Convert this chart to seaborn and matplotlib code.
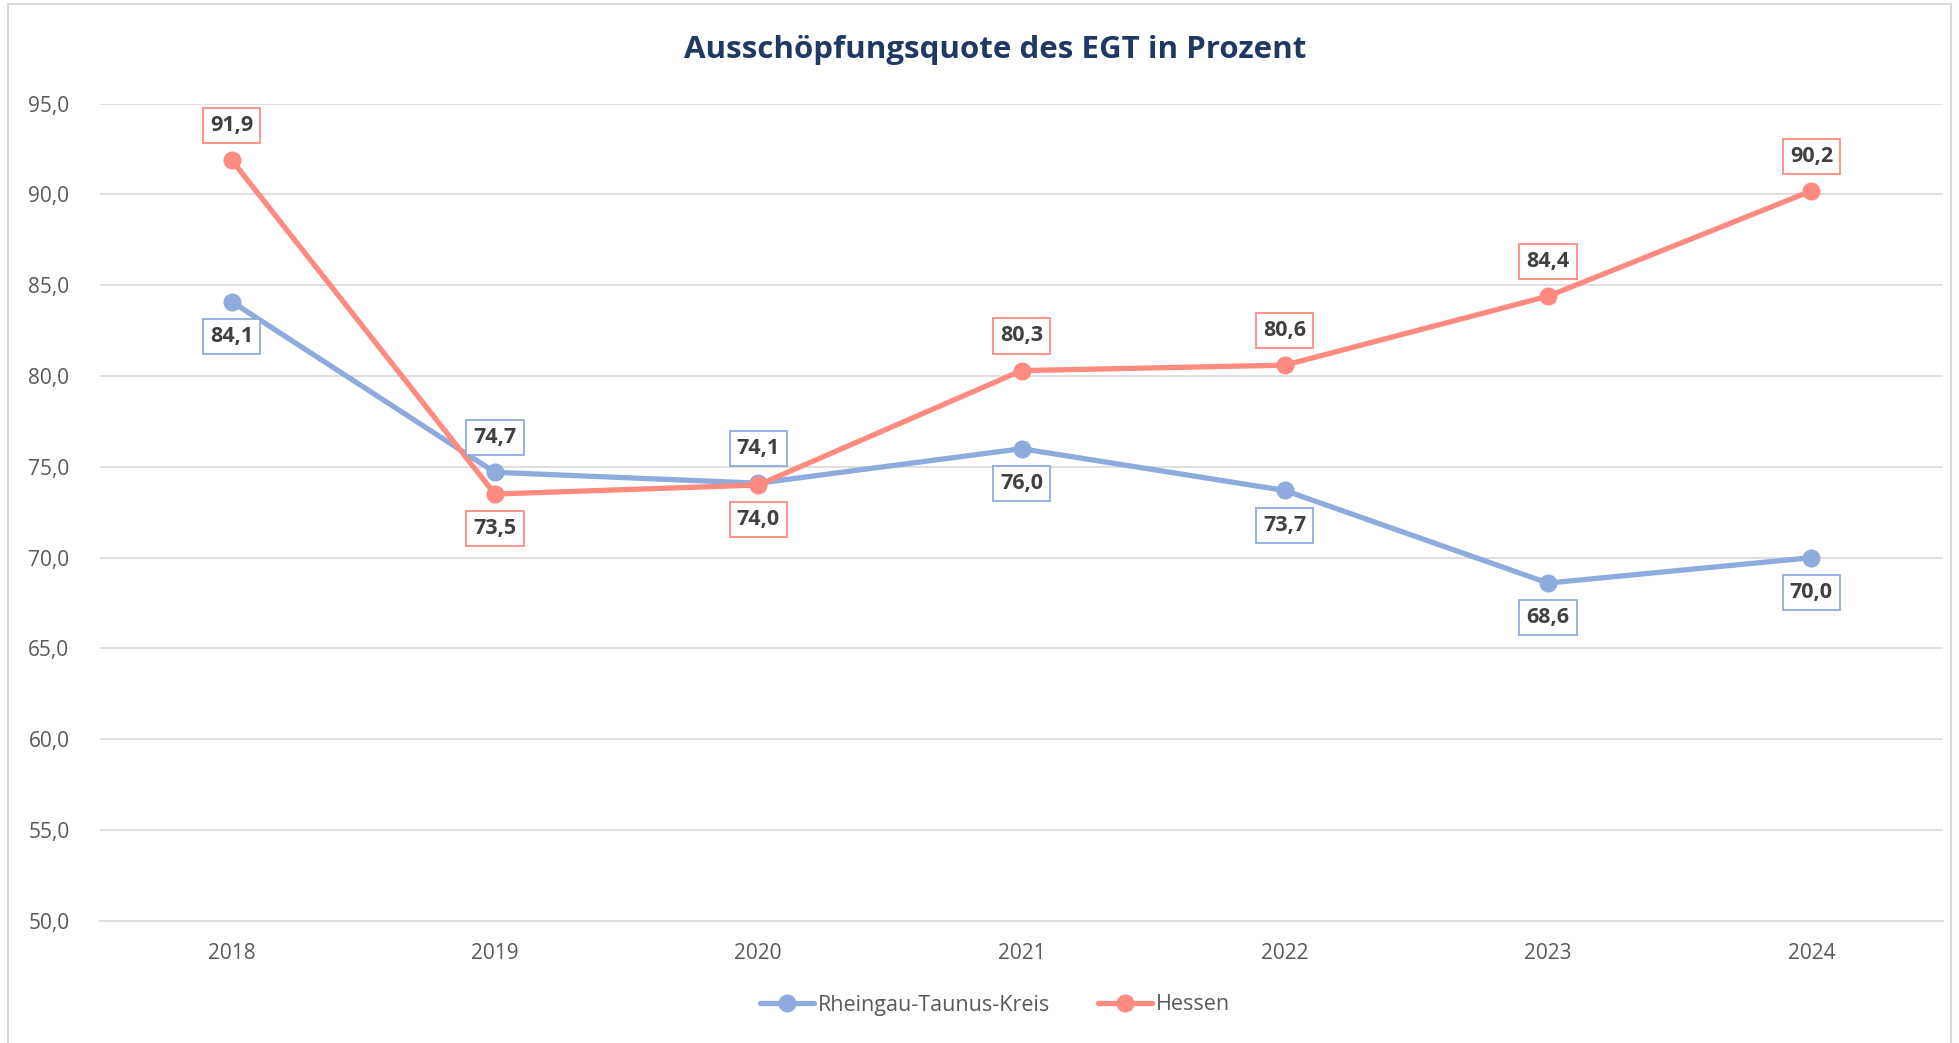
import numpy as np
import pandas as pd
import matplotlib
matplotlib.use("Agg")
import matplotlib.pyplot as plt
import seaborn as sns
from matplotlib.patches import Rectangle

# data
jahre = ["2018", "2019", "2020", "2021", "2022", "2023", "2024"]
rtk = [84.1, 74.7, 74.1, 76.0, 73.7, 68.6, 70.0]
hessen = [91.9, 73.5, 74.0, 80.3, 80.6, 84.4, 90.2]
serien = ["Rheingau-Taunus-Kreis", "Hessen"]
farben = ["#8FAADC", "#FF8A80"]
# label above (+1) or below (-1) the point
pos_rtk = [-1, 1, 1, -1, -1, -1, -1]
pos_hessen = [1, -1, -1, 1, 1, 1, 1]
yticks = [50, 55, 60, 65, 70, 75, 80, 85, 90, 95]

df = pd.DataFrame({
    "Jahr": jahre * 2,
    "Wert": rtk + hessen,
    "Region": [serien[0]] * len(jahre) + [serien[1]] * len(jahre),
})

sns.set_theme(style="white")
plt.rcParams['font.family'] = ['Open Sans', 'DejaVu Sans']

fig = plt.figure(figsize=(19.59, 10.43), dpi=100)
ax = fig.add_axes([100 / 1959, 1 - 920.8 / 1043, 1843 / 1959, (920.8 - 103.7) / 1043])

sns.lineplot(data=df, x="Jahr", y="Wert", hue="Region", palette=farben,
             marker="o", markersize=13, markeredgewidth=0, linewidth=3.8,
             ax=ax, legend=True)

ax.set_xlim(-0.5, len(jahre) - 0.5)
ax.set_ylim(50, 95)
ax.set_yticks(yticks)
ax.set_yticklabels([f"{v:.1f}".replace(".", ",") for v in yticks])
ax.grid(axis="y", color="#D9D9D9", linewidth=1.2)
ax.set_axisbelow(True)
for s in ["top", "right", "left"]:
    ax.spines[s].set_visible(False)
ax.spines["bottom"].set_color("#D9D9D9")
ax.spines["bottom"].set_linewidth(1.2)
ax.tick_params(axis="both", length=0, labelsize=15, labelcolor="#595959")
ax.tick_params(axis="y", pad=22)
ax.tick_params(axis="x", pad=16)
ax.set_xlabel("")
ax.set_ylabel("")

# data labels
for werte, pos, farbe in [(rtk, pos_rtk, farben[0]), (hessen, pos_hessen, farben[1])]:
    for i, (v, p) in enumerate(zip(werte, pos)):
        ax.annotate(f"{v:.1f}".replace(".", ","), (i, v), xytext=(0, 25 * p),
                    textcoords="offset points", ha="center", va="center",
                    fontsize=15.5, fontweight="bold", color="#404040",
                    bbox=dict(boxstyle="square,pad=0.33", fc="white", ec=farbe, lw=1.3))

# legend
handles, labels = ax.get_legend_handles_labels()
ax.legend(handles, labels, loc="center", bbox_to_anchor=(995 / 1959, 1 - 1005 / 1043),
          bbox_transform=fig.transFigure, ncol=2, frameon=False, fontsize=15.5,
          labelcolor="#595959", handlelength=2.5, handletextpad=0.2, columnspacing=2.2)

fig.text(995 / 1959, 1 - 50 / 1043, "Ausschöpfungsquote des EGT in Prozent",
         ha="center", va="center", fontsize=22.5, fontweight="bold", color="#1F3864")

# chart border
fig.patches.append(Rectangle((8 / 1959, -0.01), 1943 / 1959, 1.01 - 4 / 1043,
                             transform=fig.transFigure, fill=False,
                             ec="#D9D9D9", lw=1.5))

fig.savefig("out.png", dpi=100, facecolor="white")
